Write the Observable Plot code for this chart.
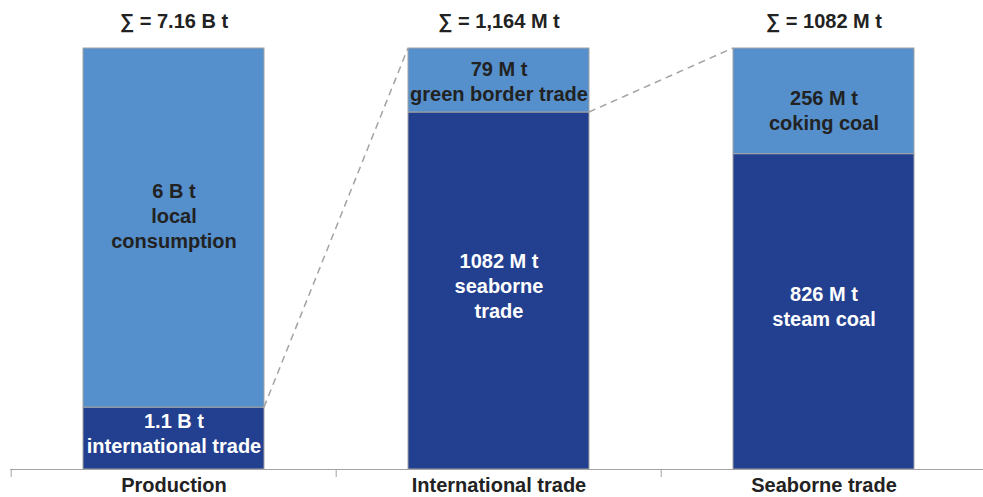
<!DOCTYPE html>
<html>
<head>
<meta charset="utf-8">
<script src="https://cdn.jsdelivr.net/npm/d3@7"></script>
<script src="https://cdn.jsdelivr.net/npm/@observablehq/plot@0.6"></script>
<style>
  html, body { margin: 0; padding: 0; background: #fff; }
  #chart svg { display: block; font-family: "Liberation Sans", Arial, Helvetica, sans-serif; }
</style>
</head>
<body>
<div id="chart"></div>
<script>
// ---- data ----
const categories = ["Production", "International trade", "Seaborne trade"];
const totalLabels = ["\u2211 = 7.16 B t", "\u2211 = 1,164 M t", "\u2211 = 1082 M t"];
// share of each bar's height (%) as drawn in the picture
const bottomShare = [14.7, 84.8, 74.9];
const topShare = [85.3, 15.2, 25.1];
const bottomLabels = ["1.1 B t\ninternational trade", "1082 M t\nseaborne\ntrade", "826 M t\nsteam coal"];
const topLabels = ["6 B t\nlocal\nconsumption", "79 M t\ngreen border trade", "256 M t\ncoking coal"];

// ---- build table ----
const segments = [];
categories.forEach((c, i) => {
  segments.push({cat: c, part: "bottom", y1: 0, y2: bottomShare[i], label: bottomLabels[i], idx: i});
  segments.push({cat: c, part: "top", y1: bottomShare[i], y2: bottomShare[i] + topShare[i], label: topLabels[i], idx: i});
});
const totals = categories.map((c, i) => ({cat: c, y: bottomShare[i] + topShare[i], label: totalLabels[i]}));

const LIGHT = "#5590cd";
const DARK = "#233f8f";
const GRID = "#a3a3a3";
const FONT = "Liberation Sans, Arial, Helvetica, sans-serif";
// label vertical nudges (px) relative to segment middle
const labelDy = {"bottom0": -6, "top0": -13, "bottom1": -6, "top1": 0, "bottom2": -6, "top2": 8};

const labelMarks = segments.map(s => Plot.text([s], {
  x: "cat", y: d => (d.y1 + d.y2) / 2, text: "label",
  dy: labelDy[s.part + s.idx],
  fill: s.part === "top" ? "#222" : "white",
  fontSize: 20, fontWeight: "bold", lineHeight: 1.25, lineAnchor: "middle", textAnchor: "middle"
}));

const chart = Plot.plot({
  width: 983,
  height: 497,
  marginTop: 48,
  marginBottom: 28,
  marginLeft: 10,
  marginRight: 0,
  style: {fontFamily: FONT, background: "#fff"},
  x: {type: "band", domain: categories, range: [10, 987], paddingInner: 0.444, paddingOuter: 0.222, axis: null, label: null},
  y: {domain: [0, 100], axis: null, label: null},
  marks: [
    Plot.barY(segments, {
      x: "cat", y1: "y1", y2: "y2",
      fill: d => d.part === "top" ? LIGHT : DARK,
      stroke: GRID, strokeWidth: 1
    }),
    Plot.ruleY([0], {stroke: GRID, strokeWidth: 1.2}),
    Plot.axisX(categories, {tickSize: 8, tickFormat: () => "", label: null, dx: -162.8, stroke: GRID, strokeWidth: 1}),
    ...labelMarks,
    Plot.text(totals, {
      x: "cat", y: "y", text: "label", dy: -27,
      fill: "#222", fontSize: 20, fontWeight: "bold", lineAnchor: "middle"
    }),
    Plot.text(categories, {
      x: d => d, frameAnchor: "bottom", dy: 16,
      fill: "#222", fontSize: 20, fontWeight: "bold", lineAnchor: "middle"
    })
  ]
});

// dashed connector lines, positioned through the chart's own scales
const sx = chart.scale("x");
const sy = chart.scale("y");
const fx = sx.apply ? (v => sx.apply(v)) :
  (v => d3.scaleBand().domain(sx.domain).range(sx.range).paddingInner(0.444).paddingOuter(0.222)(v));
const bw = sx.bandwidth;
const fy = sy.apply ? (v => sy.apply(v)) : d3.scaleLinear().domain(sy.domain).range(sy.range);

const connectors = [
  {x1: fx(categories[0]) + bw, y1: fy(bottomShare[0]), x2: fx(categories[1]), y2: fy(bottomShare[1] + topShare[1])},
  {x1: fx(categories[1]) + bw, y1: fy(bottomShare[1]), x2: fx(categories[2]), y2: fy(bottomShare[2] + topShare[2])}
];
d3.select(chart).append("g")
  .selectAll("line").data(connectors).join("line")
  .attr("x1", d => d.x1).attr("y1", d => d.y1)
  .attr("x2", d => d.x2).attr("y2", d => d.y2)
  .attr("stroke", GRID).attr("stroke-width", 1.5).attr("stroke-dasharray", "7,5");

document.getElementById("chart").appendChild(chart);
</script>
</body>
</html>
